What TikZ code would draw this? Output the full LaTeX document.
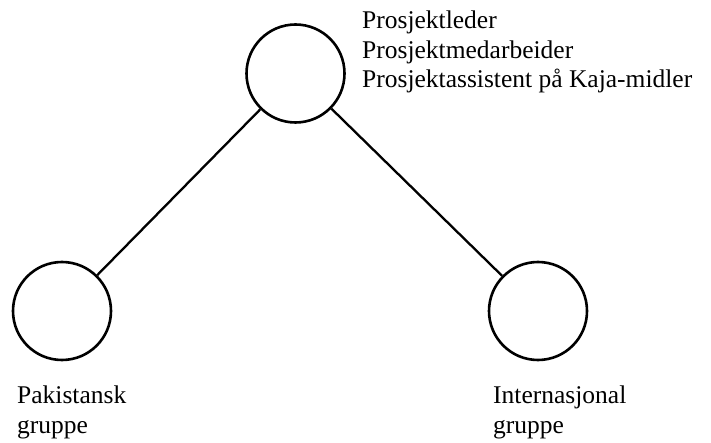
\documentclass[tikz,border=0pt]{standalone}
\usepackage{fontspec}
\setmainfont{Liberation Serif}
\begin{document}
\begin{tikzpicture}[x=1pt,y=-1pt,
  unit/.style={draw,circle,minimum size=98pt,inner sep=0pt,line width=2.6pt},
  link/.style={line width=2.3pt},
  lbl/.style={align=left,anchor=north west,inner sep=0pt,font=\fontsize{25.5}{29.5}\selectfont}]
\useasboundingbox (0,0) rectangle (711,443);
\node[unit] (top) at (295.5,73.5) {};
\node[unit] (left) at (62,311) {};
\node[unit] (right) at (538,311) {};
\draw[link] (top) -- (left);
\draw[link] (top) -- (right);
\node[lbl] (toplbl) at (362,11) {Prosjektleder\\Prosjektmedarbeider\\Prosjektassistent på Kaja-midler};
\node[lbl] (leftlbl) at (17,386) {Pakistansk\\gruppe};
\node[lbl] (rightlbl) at (493,386) {Internasjonal\\gruppe};
\end{tikzpicture}
\end{document}
